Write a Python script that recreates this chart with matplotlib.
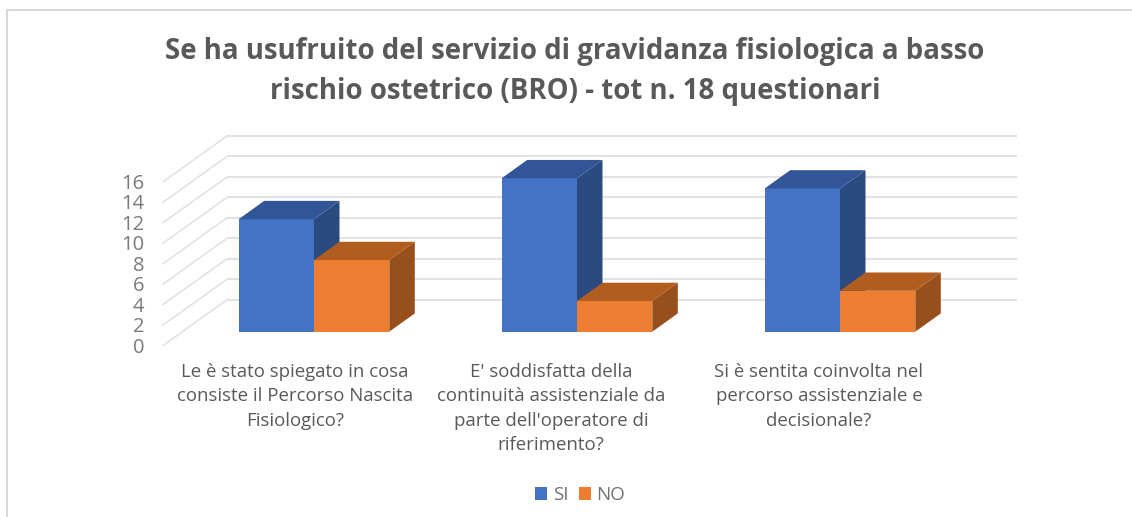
import matplotlib
matplotlib.use("Agg")
import matplotlib.pyplot as plt
from matplotlib.patches import Polygon, Patch
from matplotlib.lines import Line2D

plt.rcParams['font.family'] = ['Open Sans', 'DejaVu Sans']

title = ("Se ha usufruito del servizio di gravidanza fisiologica a basso\n"
         "rischio ostetrico (BRO) - tot n. 18 questionari")
categories = ["Le è stato spiegato in cosa\nconsiste il Percorso Nascita\nFisiologico?",
              "E' soddisfatta della\ncontinuità assistenziale da\nparte dell'operatore di\nriferimento?",
              "Si è sentita coinvolta nel\npercorso assistenziale e\ndecisionale?"]
si_values = [11, 15, 14]
no_values = [7, 3, 4]
yticks = [0, 2, 4, 6, 8, 10, 12, 14, 16]

W, H = 1132, 517
fig = plt.figure(figsize=(W / 100, H / 100), dpi=100)
ax = fig.add_axes([0, 0, 1, 1])

PX_X = 263.0       # px per category
PX_Y = 10.23       # px per value unit
X0, Y0 = 314.0, 331.7
ax.set_xlim((0 - X0) / PX_X, (W - X0) / PX_X)
ax.set_ylim((Y0 - H) / PX_Y, Y0 / PX_Y)
ax.axis('off')

# 3D projection offsets in data units
bar_w = 75.3 / PX_X
dx, dy = 25.5 / PX_X, 18.3 / PX_Y
fx, fy = (163 - X0) / PX_X, (Y0 - 345.5) / PX_Y      # front edge of floor
bx, by = (227 - X0) / PX_X, (Y0 - 299.7) / PX_Y      # back edge of floor
rx = (1017 - X0) / PX_X

for v in yticks:
    ax.plot([bx, rx], [by + v, by + v], color='#e2e2e2', lw=1.5, zorder=1, solid_capstyle='butt')
    ax.plot([fx, bx], [fy + v, by + v], color='#e2e2e2', lw=1.2, zorder=1)
    ax.text(fx - 18.5 / PX_X, fy + v - 0.2, str(v), ha='right', va='center',
            fontsize=14.5, color='#7a7a7a')


def box(x, v, front, side, top):
    ax.bar(x, v, width=bar_w, align='edge', color=front, zorder=3)
    ax.add_patch(Polygon([(x + bar_w, 0), (x + bar_w + dx, dy), (x + bar_w + dx, v + dy),
                          (x + bar_w, v)], closed=True, fc=side, ec='none', zorder=3))
    ax.add_patch(Polygon([(x, v), (x + dx, v + dy), (x + bar_w + dx, v + dy),
                          (x + bar_w, v)], closed=True, fc=top, ec='none', zorder=3))


for i, (s, n) in enumerate(zip(si_values, no_values)):
    box(i - bar_w, s, '#4472C4', '#2A4A80', '#315596')
    box(i, n, '#ED7D31', '#97501C', '#B25D20')

label_x = [295, 551, 819]
for lx, c in zip(label_x, categories):
    ax.text((lx - X0) / PX_X, (Y0 - 363) / PX_Y, c, ha='center', va='top', fontsize=13.4,
            color='#595959', linespacing=1.46)

fig.text(575 / W, 1 - 37 / H, title, ha='center', va='top', fontsize=19.9,
         fontweight='bold', color='#595959', linespacing=1.48)

handles = [Patch(fc='#4472C4', label='SI'), Patch(fc='#ED7D31', label='NO')]
ax.legend(handles=handles, ncol=2, frameon=False, loc='center',
          bbox_to_anchor=(580 / W, 1 - 495 / H), fontsize=13.5, labelcolor='#707070',
          handlelength=0.65, handleheight=0.65, handletextpad=0.3, columnspacing=0.55)

# chart border (cropped on the right and bottom)
fig.add_artist(Line2D([7 / W, 7 / W, 1], [0, 1 - 10 / H, 1 - 10 / H], color='#d9d9d9', lw=1.5))

fig.savefig('out.png', dpi=100)
